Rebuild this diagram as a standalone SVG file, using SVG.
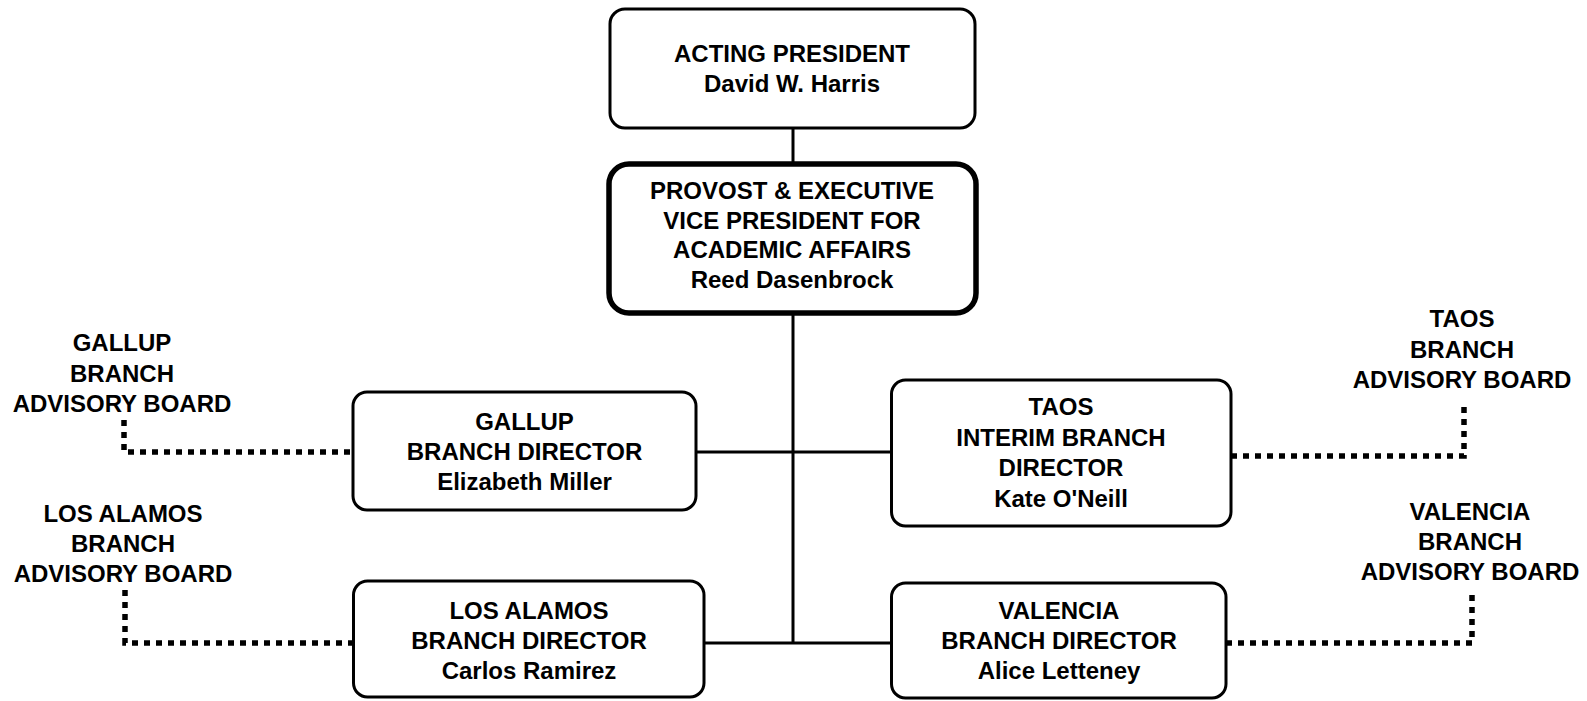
<svg xmlns="http://www.w3.org/2000/svg" width="1587" height="701" viewBox="0 0 1587 701">
<style>
.box{fill:#fff;stroke:#000;stroke-width:3}
.thick{stroke-width:5.5}
.t{font-family:"Liberation Sans",Arial,sans-serif;font-weight:bold;font-size:24px;fill:#000;text-anchor:middle}
.ln{fill:none;stroke:#000;stroke-width:3}
.dot{fill:none;stroke:#000;stroke-width:5.5;stroke-dasharray:6 6}
</style>
<rect width="1587" height="701" fill="#fff"/>
<g id="connectors">
<line class="ln" x1="793" y1="128" x2="793" y2="164"/>
<line class="ln" x1="793" y1="313" x2="793" y2="643"/>
<line class="ln" x1="696" y1="452" x2="892" y2="452"/>
<line class="ln" x1="704" y1="643" x2="892" y2="643"/>
<polyline class="dot" points="124,420 124,452 353,452"/>
<polyline class="dot" points="125,590 125,643 353,643"/>
<polyline class="dot" points="1231,456 1464,456 1464,405"/>
<polyline class="dot" points="1226,643 1472,643 1472,589"/>
</g>
<g id="acting-president">
<rect class="box" x="610" y="9" width="365" height="119" rx="15"/>
<text class="t" x="792" y="62">ACTING PRESIDENT</text>
<text class="t" x="792" y="92">David W. Harris</text>
</g>
<g id="provost">
<rect class="box thick" x="609" y="164" width="367" height="149" rx="20"/>
<text class="t" x="792" y="199">PROVOST &amp; EXECUTIVE</text>
<text class="t" x="792" y="228.5">VICE PRESIDENT FOR</text>
<text class="t" x="792" y="258">ACADEMIC AFFAIRS</text>
<text class="t" x="792" y="287.5">Reed Dasenbrock</text>
</g>
<g id="gallup-director">
<rect class="box" x="353" y="392" width="343" height="118" rx="14"/>
<text class="t" x="524.5" y="430">GALLUP</text>
<text class="t" x="524.5" y="460">BRANCH DIRECTOR</text>
<text class="t" x="524.5" y="490">Elizabeth Miller</text>
</g>
<g id="taos-director">
<rect class="box" x="891.5" y="380" width="339.5" height="146" rx="14"/>
<text class="t" x="1061" y="415">TAOS</text>
<text class="t" x="1061" y="445.5">INTERIM BRANCH</text>
<text class="t" x="1061" y="476">DIRECTOR</text>
<text class="t" x="1061" y="506.5">Kate O'Neill</text>
</g>
<g id="losalamos-director">
<rect class="box" x="353.5" y="581" width="350.5" height="116" rx="14"/>
<text class="t" x="529" y="619">LOS ALAMOS</text>
<text class="t" x="529" y="649">BRANCH DIRECTOR</text>
<text class="t" x="529" y="679">Carlos Ramirez</text>
</g>
<g id="valencia-director">
<rect class="box" x="891.5" y="583" width="334.5" height="115" rx="14"/>
<text class="t" x="1059" y="619">VALENCIA</text>
<text class="t" x="1059" y="649">BRANCH DIRECTOR</text>
<text class="t" x="1059" y="679">Alice Letteney</text>
</g>
<g id="gallup-board">
<text class="t" x="122" y="351">GALLUP</text>
<text class="t" x="122" y="382">BRANCH</text>
<text class="t" x="122" y="412">ADVISORY BOARD</text>
</g>
<g id="losalamos-board">
<text class="t" x="123" y="522">LOS ALAMOS</text>
<text class="t" x="123" y="552">BRANCH</text>
<text class="t" x="123" y="582">ADVISORY BOARD</text>
</g>
<g id="taos-board">
<text class="t" x="1462" y="327">TAOS</text>
<text class="t" x="1462" y="358">BRANCH</text>
<text class="t" x="1462" y="388">ADVISORY BOARD</text>
</g>
<g id="valencia-board">
<text class="t" x="1470" y="520">VALENCIA</text>
<text class="t" x="1470" y="550">BRANCH</text>
<text class="t" x="1470" y="580">ADVISORY BOARD</text>
</g>
</svg>
